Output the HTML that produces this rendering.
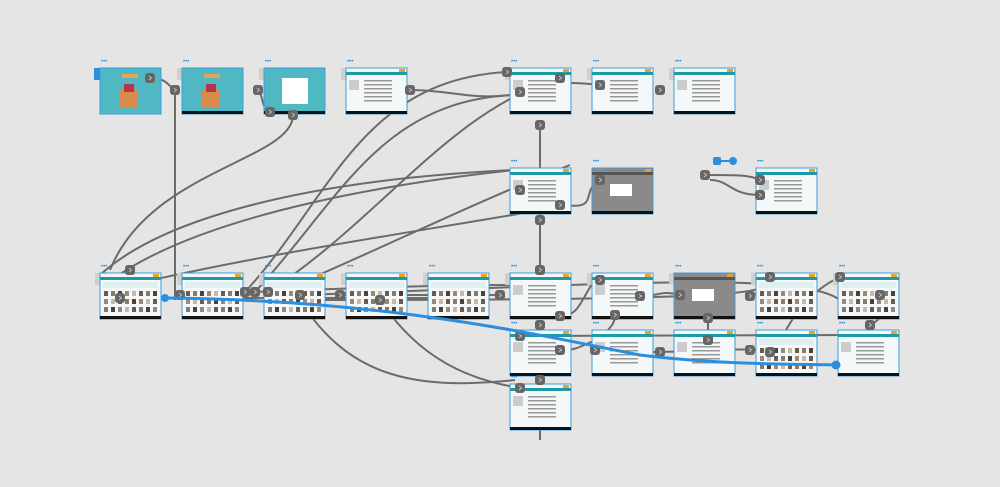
<!DOCTYPE html>
<html><head><meta charset="utf-8"><style>
html,body{margin:0;padding:0;background:#e5e5e5;width:1000px;height:487px;overflow:hidden;font-family:"Liberation Sans",sans-serif}
</style></head><body>
<svg id="s" width="1000" height="487" xmlns="http://www.w3.org/2000/svg"></svg>
<script>
const s=document.getElementById('s');
let h='';
function R(x,y,w,hh,f,st){h+=`<rect x="${x}" y="${y}" width="${w}" height="${hh}" fill="${f}" ${st?`stroke="${st}" stroke-width="1"`:''}/>`;}
const g='#6b6b6b';
const lines=[
"M150,78 C170,78 170,90 175,90 L175,300",
"M183,90 C200,90 205,90 210,90",
"M258,90 C262,90 262,112 270,112",
"M293,115 C293,160 150,170 110,270",
"M410,90 C450,90 470,100 510,95",
"M245,292 C330,200 360,80 507,72",
"M255,292 C340,200 380,100 515,95",
"M268,292 C380,220 450,110 560,78",
"M280,292 C400,240 480,200 570,165",
"M600,85 C560,80 530,85 520,92",
"M540,125 L540,270",
"M105,285 C200,210 420,180 515,170",
"M110,290 C250,255 430,230 570,205",
"M565,205 C600,210 580,190 600,180",
"M515,170 C300,180 160,220 100,275",
"M705,175 C740,175 750,175 760,180",
"M710,180 C730,180 730,195 760,195",
"M300,295 C600,285 800,270 840,300",
"M300,300 C500,300 780,300 760,285",
"M340,295 L500,295",
"M180,295 C300,290 420,285 510,285",
"M120,298 L480,298",
"M540,320 L540,440",
"M520,336 C700,336 840,336 860,335",
"M560,316 C580,316 580,300 595,280",
"M640,296 C660,296 660,290 680,295",
"M650,352 C700,352 720,348 760,350",
"M750,296 C760,296 760,280 770,277",
"M770,352 C780,352 790,300 840,277",
"M880,295 C890,295 890,315 870,325",
"M380,300 C420,360 470,380 520,388",
"M300,300 C350,380 420,390 515,380",
"M615,315 C615,330 600,330 600,350",
"M708,318 L708,330",
"M565,350 C580,350 590,340 600,340"
];
lines.forEach(d=>h+=`<path d="${d}" fill="none" stroke="${g}" stroke-width="2"/>`);
const boards=[
[100,68,'t'],[182,68,'t'],[264,68,'tl'],[346,68,'w'],[510,68,'w'],[592,68,'w'],[674,68,'w'],
[510,168,'w'],[592,168,'d'],[756,168,'w'],
[100,273,'g'],[182,273,'g'],[264,273,'g'],[346,273,'g'],[428,273,'g'],[510,273,'w'],[592,273,'w'],[674,273,'d'],[756,273,'g'],[838,273,'g'],
[510,330,'w'],[592,330,'w'],[674,330,'w'],[756,330,'g'],[838,330,'w'],
[510,384,'w']];
const cols=['#6b5a4e','#8a7a6a','#4a4038','#a08870','#c8b8a8'];
boards.forEach(([x,y,t])=>{
 const w=61,hh=46;
 h+=`<text x="${x+1}" y="${y-5}" font-size="6" fill="#2b8fe0">•••</text>`;
 if(y==68||y==273) R(x-5,y,6,12,'#cfcfcf');
 if(t=='t'||t=='tl'){R(x,y,w,hh,'#4fb8c2','#3c9be0');
   if(t=='tl'){R(x+18,y+10,26,26,'#fff');R(x,y+hh-3,w,3,'#111');}
   else {R(x+22,y+6,16,4,'#e8a35a');R(x+20,y+22,18,18,'#d9894a');R(x+24,y+16,10,8,'#b8344a');if(x>150)R(x,y+hh-3,w,3,'#111');}
 } else {
   const dark=t=='d';
   R(x,y,w,hh,dark?'#8a8a8a':'#f4f8f9','#3c9be0');
   R(x,y+4,w,3,dark?'#555':'#1d9aa5');
   R(x+w-8,y+1,6,3,'#f0a020');
   R(x,y+hh-3,w,3,'#111');
   if(t=='g'){R(x+3,y+9,w-6,6,'#dfeff1');for(let r=0;r<3;r++)for(let c=0;c<8;c++)R(x+4+c*7,y+18+r*8,4,5,cols[(r*3+c)%5]);}
   else if(t=='w'){for(let r=0;r<6;r++)R(x+18,y+12+r*4,28,1.5,'#999');R(x+3,y+12,10,10,'#ccc');}
   else {R(x+18,y+16,22,12,'#fff');}
 }
});
const nodes=[[150,78],[175,90],[258,90],[270,112],[293,115],[410,90],[520,92],[540,125],[600,85],[660,90],[520,190],[560,205],[540,220],[600,180],[705,175],[760,180],[760,195],[120,298],[130,270],[180,295],[300,295],[340,295],[380,300],[500,295],[540,270],[540,325],[560,316],[600,280],[640,296],[615,315],[660,352],[680,295],[708,318],[750,296],[770,277],[770,352],[840,277],[880,295],[870,325],[520,336],[520,388],[540,380],[560,350],[595,350],[708,340],[750,350],[245,292],[255,292],[268,292],[507,72],[560,78]];
nodes.forEach(([x,y])=>{h+=`<rect x="${x-5}" y="${y-5}" width="10" height="10" rx="3" fill="#666"/><path d="M${x-1},${y-2} L${x+1.5},${y} L${x-1},${y+2}" stroke="#ddd" stroke-width="0.8" fill="none"/>`;});
h+=`<path d="M165,298 C400,300 560,340 640,355 C720,365 800,364 836,365" fill="none" stroke="#2b8fe0" stroke-width="3"/>`;
h+=`<circle cx="165" cy="298" r="4" fill="#2b8fe0"/><circle cx="836" cy="365" r="4.5" fill="#2b8fe0"/>`;
h+=`<rect x="713" y="157" width="8" height="8" rx="2" fill="#2b8fe0"/><line x1="719" y1="161" x2="732" y2="161" stroke="#2b8fe0" stroke-width="2"/><circle cx="733" cy="161" r="4" fill="#2b8fe0"/>`;
h+=`<rect x="94" y="68" width="6" height="12" fill="#2b8fe0"/>`;
s.innerHTML=h;
</script>
</body></html>
